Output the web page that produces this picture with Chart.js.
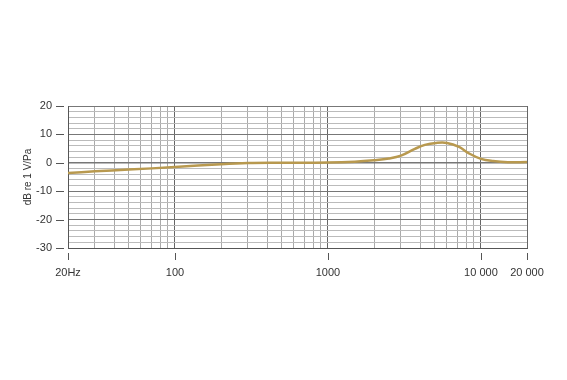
<!DOCTYPE html>
<html>
<head>
<meta charset="utf-8">
<script src="https://cdn.jsdelivr.net/npm/chart.js@4"></script>
<style>
  html, body { margin: 0; padding: 0; background: #fff; }
  #wrap { width: 567px; height: 380px; }
</style>
</head>
<body>
<div id="wrap"><canvas id="fr"></canvas></div>
<script>
// frequency response
const freqs = [20, 30, 50, 100, 200, 300, 500, 1000, 1500, 2000, 2500, 3000, 3700, 4300, 5100, 6000, 7200, 8300, 10000, 12000, 15000, 20000];
const levels = [-3.6, -3.0, -2.4, -1.5, -0.5, -0.1, 0, 0.1, 0.4, 0.9, 1.5, 2.5, 4.9, 6.3, 7.0, 7.0, 5.6, 3.4, 1.4, 0.6, 0.2, 0.3];

const xTickValues = [20, 100, 1000, 10000, 20000];
const xTickLabels = ['20Hz', '100', '1000', '10 000', '20 000'];
const yTickValues = [-30, -20, -10, 0, 10, 20];

// minor grid: 20..90, 100..900, 1000..9000, 10000, 20000
const xGrid = [];
for (let d = 10; d <= 1000; d *= 10) {
  for (let m = 1; m <= 9; m++) {
    const v = m * d;
    if (v >= 20) xGrid.push(v);
  }
}
xGrid.push(10000, 20000);

const isDecade = v => xTickValues.includes(v);

// short tick marks set off from the axes
const tickMarks = {
  id: 'tickMarks',
  afterDraw(chart) {
    const { ctx, chartArea, scales } = chart;
    ctx.save();
    ctx.strokeStyle = '#555';
    ctx.lineWidth = 1;
    ctx.beginPath();
    xTickValues.forEach(v => {
      const x = Math.round(scales.x.getPixelForValue(v)) + 0.5;
      ctx.moveTo(x, chartArea.bottom + 5);
      ctx.lineTo(x, chartArea.bottom + 12);
    });
    yTickValues.forEach(v => {
      const y = Math.round(scales.y.getPixelForValue(v)) + 0.5;
      ctx.moveTo(chartArea.left - 12, y);
      ctx.lineTo(chartArea.left - 4, y);
    });
    ctx.stroke();
    ctx.restore();
  }
};

const ctx = document.getElementById('fr').getContext('2d');

new Chart(ctx, {
  type: 'line',
  data: {
    datasets: [{
      data: freqs.map((f, i) => ({ x: f, y: levels[i] })),
      borderColor: '#b8994f',
      borderWidth: 2.5,
      pointRadius: 0,
      tension: 0.4,
      fill: false
    }]
  },
  options: {
    responsive: true,
    maintainAspectRatio: false,
    animation: false,
    layout: { padding: { top: 106, right: 40, left: 0, bottom: 0 } },
    plugins: { legend: { display: false }, tooltip: { enabled: false } },
    scales: {
      x: {
        type: 'logarithmic',
        min: 20,
        max: 20000,
        afterBuildTicks: s => { s.ticks = xGrid.map(v => ({ value: v })); },
        afterFit: s => { s.height = 132; },
        border: { color: '#555', width: 1 },
        grid: {
          color: c => isDecade(c.tick.value) ? '#666' : '#aaa',
          lineWidth: 1,
          drawTicks: false
        },
        ticks: {
          autoSkip: false,
          maxRotation: 0,
          padding: 18,
          color: '#333',
          font: { family: 'Liberation Sans, Arial, sans-serif', size: 11 },
          callback: v => {
            const i = xTickValues.indexOf(v);
            return i >= 0 ? xTickLabels[i] : '';
          }
        }
      },
      y: {
        min: -30,
        max: 20,
        afterFit: s => { s.width = 68; },
        border: { color: '#555', width: 1 },
        grid: {
          color: c => c.tick.value % 10 === 0 ? '#777' : '#bbb',
          lineWidth: c => c.tick.value === 0 ? 1.5 : 1,
          drawTicks: false
        },
        ticks: {
          stepSize: 2,
          autoSkip: false,
          padding: 16,
          color: '#333',
          font: { family: 'Liberation Sans, Arial, sans-serif', size: 11 },
          callback: v => yTickValues.includes(v) ? String(v) : ''
        },
        title: {
          display: true,
          text: 'dB re 1 V/Pa',
          color: '#333',
          font: { family: 'Liberation Sans, Arial, sans-serif', size: 10 },
          padding: { top: 22, bottom: 0 }
        }
      }
    }
  },
  plugins: [tickMarks]
});
</script>
</body>
</html>
